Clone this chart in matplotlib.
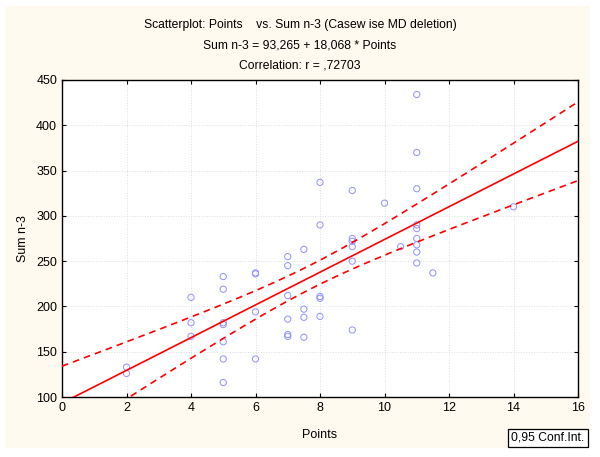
import numpy as np
import matplotlib.pyplot as plt
from matplotlib.patches import Rectangle

plt.rcParams['font.family'] = ['Liberation Sans', 'DejaVu Sans']

points = [2, 2,
          4, 4, 4,
          5, 5, 5, 5, 5, 5, 5,
          6, 6, 6, 6,
          7, 7, 7, 7, 7, 7,
          7.5, 7.5, 7.5, 7.5,
          8, 8, 8, 8, 8,
          9, 9, 9, 9, 9, 9,
          10, 10.5,
          11, 11, 11, 11, 11, 11, 11, 11, 11,
          11.5, 14]
sum_n3 = [133, 126,
          210, 182, 167,
          233, 219, 182, 180, 161, 142, 116,
          237, 236, 194, 142,
          255, 245, 212, 186, 169, 167,
          263, 197, 188, 166,
          337, 290, 211, 209, 189,
          328, 275, 272, 266, 250, 174,
          314, 266,
          434, 370, 330, 290, 286, 275, 268, 260, 248,
          237, 310]

# regression from the title
intercept = 93.265
slope = 18.068
t_crit = 2.0106  # t(0.975, n-2)

x = np.array(points, dtype=float)
y = np.array(sum_n3, dtype=float)
n = len(x)
resid = y - (intercept + slope * x)
s = np.sqrt(np.sum(resid ** 2) / (n - 2))
sxx = np.sum((x - x.mean()) ** 2)

xs = np.linspace(0, 16, 200)
fit = intercept + slope * xs
half = t_crit * s * np.sqrt(1 / n + (xs - x.mean()) ** 2 / sxx)

fig = plt.figure(figsize=(6, 4.57), dpi=100, facecolor='white')
fig.patches.append(Rectangle((5 / 600, 1 - 448 / 457), 585 / 600, 442 / 457,
                             transform=fig.transFigure, facecolor='#fffaf0',
                             edgecolor='none', zorder=-5))
ax = fig.add_axes([62 / 600, 1 - 397 / 457, 516 / 600, 317 / 457])
ax.set_facecolor('white')

ax.scatter(x, y, s=20, facecolors='none', edgecolors='#9090ff', linewidths=0.7, zorder=3)
ax.plot(xs, fit, color='#ff0000', lw=1.2, zorder=4)
ax.plot(xs, fit + half, color='#ff0000', lw=1.2, ls=(0, (4, 3)), zorder=4)
ax.plot(xs, fit - half, color='#ff0000', lw=1.2, ls=(0, (4, 3)), zorder=4)

ax.set_xlim(0, 16)
ax.set_ylim(100, 450)
ax.set_xticks(range(0, 17, 2))
ax.set_yticks(range(100, 451, 50))
ax.grid(True, color='#dddddd', ls=':', lw=0.7)
ax.tick_params(direction='in', length=3, top=True, right=True, labelsize=9, width=0.8)
for sp in ax.spines.values():
    sp.set_linewidth(1.0)

ax.set_xlabel('Points', fontsize=9, labelpad=11)
ax.set_ylabel('Sum n-3', fontsize=9, labelpad=5)

fs = 8.7
fig.text(0.5, 1 - 25 / 457, 'Scatterplot: Points    vs. Sum n-3 (Casew ise MD deletion)',
         ha='center', va='center', fontsize=fs)
fig.text(0.5, 1 - 46 / 457, 'Sum n-3 = 93,265 + 18,068 * Points',
         ha='center', va='center', fontsize=fs)
fig.text(0.5, 1 - 66 / 457, 'Correlation: r = ,72703',
         ha='center', va='center', fontsize=fs)

fig.text(548 / 600, 1 - 438 / 457, '0,95 Conf.Int.', ha='center', va='center', fontsize=fs,
         bbox=dict(boxstyle='square,pad=0.25', facecolor='white', edgecolor='black', lw=0.9))

fig.savefig('out.png', dpi=100, facecolor=fig.get_facecolor())
